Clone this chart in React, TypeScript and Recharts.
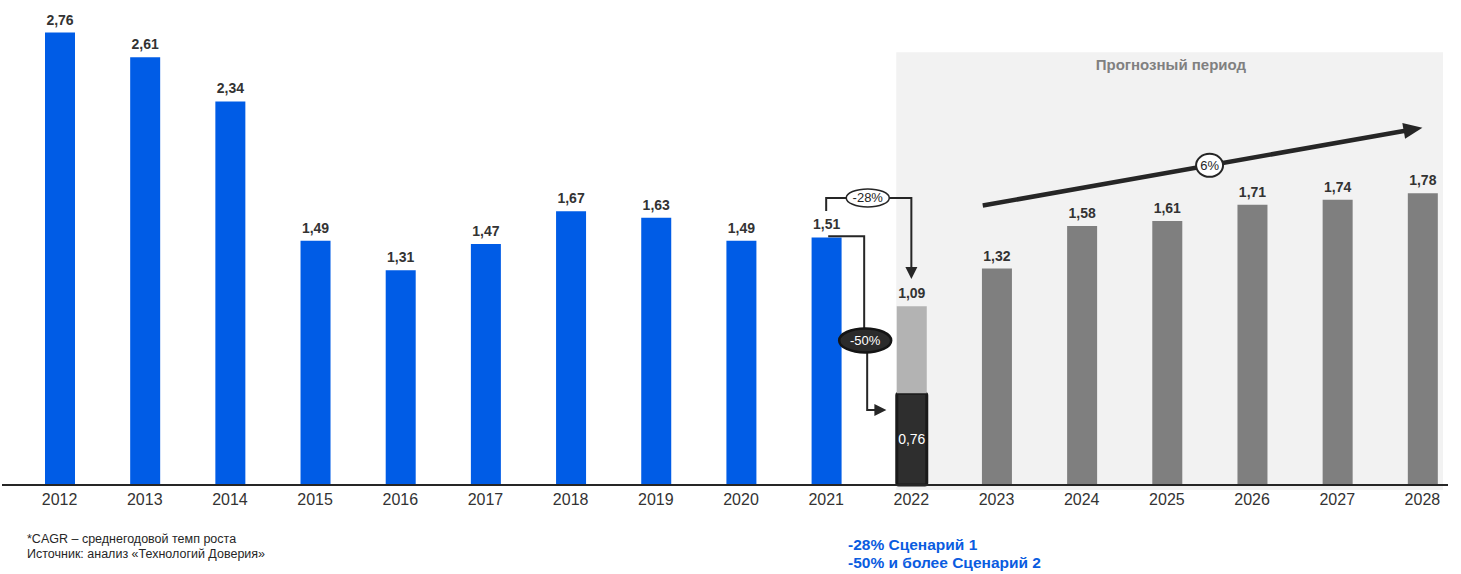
import React from "react"
import { BarChart, Bar, XAxis, YAxis, ReferenceArea, ReferenceLine, LabelList } from "recharts"

const years = ["2012", "2013", "2014", "2015", "2016", "2017", "2018", "2019", "2020", "2021", "2022", "2023", "2024", "2025", "2026", "2027", "2028"]
const actual = [2.76, 2.61, 2.34, 1.49, 1.31, 1.47, 1.67, 1.63, 1.49, 1.51, null, null, null, null, null, null, null]
const scenario1 = [null, null, null, null, null, null, null, null, null, null, 1.09, null, null, null, null, null, null]
// scenario 2 is labelled 0,76 but drawn at about 0,56 in the source picture
const scenario2Drawn = [null, null, null, null, null, null, null, null, null, null, 0.56, null, null, null, null, null, null]
const scenario2Labels = ["", "", "", "", "", "", "", "", "", "", "0,76", "", "", "", "", "", ""]
const forecast = [null, null, null, null, null, null, null, null, null, null, null, 1.32, 1.58, 1.61, 1.71, 1.74, 1.78]

const data = years.map((year, i) => ({
  year,
  actual: actual[i],
  low: scenario2Drawn[i],
  lowLabel: scenario2Labels[i],
  gap: scenario1[i] != null && scenario2Drawn[i] != null ? +(scenario1[i]! - scenario2Drawn[i]!).toFixed(2) : null,
  s1: scenario1[i],
  forecast: forecast[i],
}))

const FONT = "'Liberation Sans', Arial, sans-serif"
const NARROW = "'Liberation Sans Narrow', 'Liberation Sans', Arial, sans-serif"
const INK = "#262626"

const fmt = (v: any) => (v == null || v === "" ? "" : Number(v).toFixed(2).replace(".", ","))

const arrowHead = (tx: number, ty: number, angle: number, len: number, half: number, color: string) => {
  const c = Math.cos(angle)
  const s = Math.sin(angle)
  const bx = tx - len * c
  const by = ty - len * s
  const pts = [
    [tx, ty],
    [bx - half * s, by + half * c],
    [bx + half * s, by - half * c],
  ]
  return <polygon points={pts.map((p) => p.join(",")).join(" ")} fill={color} />
}

const ShadeShape = (p: any) => {
  const left = p.x + 27.5
  const right = p.x + p.width - 22
  return <rect x={left} y={p.y} width={right - left} height={p.height} fill="#f2f2f2" />
}

const Growth = (p: any) => {
  const { x1, y1, x2, y2 } = p
  const ang = Math.atan2(y2 - y1, x2 - x1)
  const sx = x1 - 14 * Math.cos(ang)
  const sy = y1 - 14 * Math.sin(ang)
  const ex = x2 - 16 * Math.cos(ang)
  const ey = y2 - 16 * Math.sin(ang)
  const mx = (sx + x2) / 2 + 7
  const my = sy + ((mx - sx) * (y2 - sy)) / (x2 - sx)
  return (
    <g>
      <line x1={sx} y1={sy} x2={ex} y2={ey} stroke={INK} strokeWidth={4.5} />
      {arrowHead(x2, y2, ang, 19, 8, INK)}
      <ellipse cx={mx} cy={my} rx={13.5} ry={11.5} fill="#fff" stroke={INK} strokeWidth={2} />
      <text x={mx} y={my + 4.5} textAnchor="middle" fontSize={13} fontFamily={FONT} fill={INK}>6%</text>
    </g>
  )
}

const Drop28 = (p: any) => {
  const { x1, y1, x2, y2 } = p
  const top = y1 - 13
  const cx = (x1 + x2) / 2 - 1
  return (
    <g>
      <path d={`M${x1},${y1} V${top} H${x2} V${y2 - 11}`} fill="none" stroke={INK} strokeWidth={2} />
      {arrowHead(x2, y2, Math.PI / 2, 12, 6, INK)}
      <ellipse cx={cx} cy={top} rx={21.5} ry={9} fill="#fff" stroke={INK} strokeWidth={1.5} />
      <text x={cx} y={top + 4.5} textAnchor="middle" fontSize={13} fontFamily={FONT} fill={INK}>-28%</text>
    </g>
  )
}

const Drop50 = (p: any) => {
  const { x1, y1, x2, y2 } = p
  const vx = x1 + 38
  const tip = x2 - 25
  const cy = y1 + 0.6 * (y2 - y1)
  return (
    <g>
      <path d={`M${x1 + 2},${y1} H${vx} V${cy}`} fill="none" stroke={INK} strokeWidth={2} />
      <path d={`M${vx + 3},${cy} V${y2} H${tip - 11}`} fill="none" stroke={INK} strokeWidth={2} />
      {arrowHead(tip, y2, 0, 12, 6, INK)}
      <ellipse cx={vx + 1} cy={cy} rx={26} ry={12} fill="#2b2b2b" stroke="#141414" strokeWidth={2.5} />
      <text x={vx + 1} y={cy + 4.5} textAnchor="middle" fontSize={13} fontFamily={FONT} fill="#fff">-50%</text>
    </g>
  )
}

const valueLabel = {
  position: "top" as const,
  offset: 8,
  fill: "#333",
  fontSize: 14,
  fontWeight: 700,
  fontFamily: NARROW,
  formatter: fmt,
}

export default function App() {
  return (
    <div style={{ position: "absolute", left: 0, top: 0, width: 1461, height: 574, background: "#fff", fontFamily: FONT }}>
      <BarChart width={1461} height={574} data={data} margin={{ top: 26, right: 13, left: 2, bottom: 59 }} barSize={30}>
        <YAxis hide domain={[0, 2.8]} />
        <ReferenceArea
          x1="2022"
          x2="2028"
          y1={-0.03}
          y2={2.64}
          ifOverflow="visible"
          shape={ShadeShape}
          label={{ value: "Прогнозный период", position: "insideTop", offset: 7, dx: 4, fill: "#808080", fontSize: 15, fontWeight: 700, fontFamily: FONT }}
        />
        <XAxis
          dataKey="year"
          interval={0}
          padding={{ left: 15, right: -17 }}
          axisLine={{ stroke: INK, strokeWidth: 2 }}
          tickLine={false}
          tickSize={0}
          tickMargin={9}
          tick={{ fill: "#333", fontSize: 16, fontFamily: FONT }}
        />
        <Bar dataKey="actual" stackId="a" fill="#005ce6" isAnimationActive={false}>
          <LabelList dataKey="actual" {...valueLabel} />
        </Bar>
        <Bar dataKey="low" stackId="a" fill="#2e2e2e" stroke="#1a1a1a" strokeWidth={3} radius={2} isAnimationActive={false}>
          <LabelList dataKey="lowLabel" position="center" fill="#fff" fontSize={14} fontFamily={FONT} />
        </Bar>
        <Bar dataKey="gap" stackId="a" fill="#b3b3b3" isAnimationActive={false}>
          <LabelList dataKey="s1" {...valueLabel} />
        </Bar>
        <Bar dataKey="forecast" stackId="a" fill="#7f7f7f" isAnimationActive={false}>
          <LabelList dataKey="forecast" {...valueLabel} />
        </Bar>
        <ReferenceLine segment={[{ x: "2023", y: 1.72 }, { x: "2028", y: 2.18 }]} shape={Growth} />
        <ReferenceLine segment={[{ x: "2021", y: 1.672 }, { x: "2022", y: 1.257 }]} shape={Drop28} />
        <ReferenceLine segment={[{ x: "2021", y: 1.517 }, { x: "2022", y: 0.458 }]} shape={Drop50} />
      </BarChart>
      <div style={{ position: "absolute", left: 27, top: 532, fontSize: 12.5, lineHeight: "15px", color: INK }}>
        <div>*CAGR – среднегодовой темп роста</div>
        <div>Источник: анализ «Технологий Доверия»</div>
      </div>
      <div style={{ position: "absolute", left: 848, top: 536, fontSize: 15.5, lineHeight: "18px", fontWeight: 700, color: "#0a5ce0" }}>
        <div>-28% Сценарий 1</div>
        <div>-50% и более Сценарий 2</div>
      </div>
    </div>
  )
}
